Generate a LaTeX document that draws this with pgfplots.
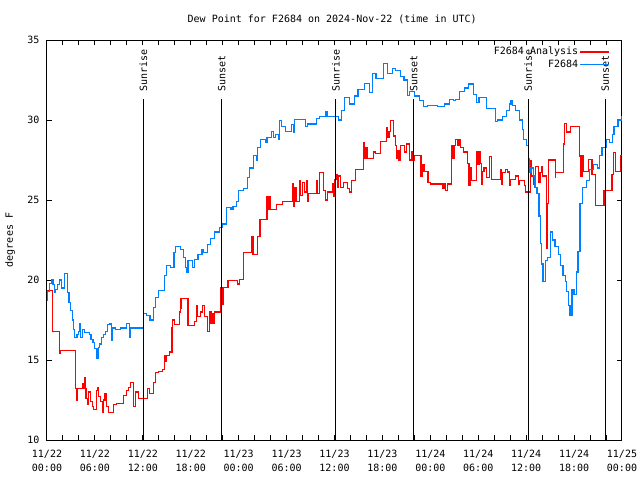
\documentclass[border=0pt]{standalone}
\usepackage{fontspec}
\setmainfont{DejaVu Sans Mono}
\usepackage{pgfplots}
\usepackage{pgfplotstable}
\pgfplotsset{compat=1.18}
\definecolor{anared}{HTML}{FF0000}
\definecolor{obsblue}{HTML}{0080FF}

% hours since 11/22 00:00 UTC, dew point in F
\pgfplotstableread{
h v
0 19.35
0.67 16.8
1.59 15.4
1.67 15.6
3.55 13.2
3.72 12.5
3.8 13.2
4.52 13.5
4.68 13.9
4.77 13.2
4.89 12.6
5.06 12.2
5.18 13.0
5.48 12.4
5.69 12.1
5.85 11.9
6.15 13.1
6.35 13.3
6.48 12.7
6.65 12.4
6.9 11.7
7.07 12.5
7.27 12.9
7.48 12.1
7.73 11.7
8.28 12.2
8.7 12.3
9.62 12.8
9.91 13.1
10.2 13.3
10.49 13.6
10.79 12.1
11.04 13.0
11.46 12.6
12.63 13.2
12.84 12.9
13.38 13.6
13.63 14.2
13.97 14.3
14.46 14.4
14.68 15.3
14.8 14.9
15.01 15.3
15.34 15.5
15.64 17.0
15.76 17.5
15.93 17.2
16.56 18.0
16.68 18.85
16.77 18.2
16.89 18.85
17.65 17.15
18.48 17.4
18.69 18.4
18.85 17.7
19.19 18.0
19.49 18.4
19.74 17.7
20.11 16.8
20.36 18.0
20.53 17.3
20.7 17.9
20.86 17.3
20.99 18.0
21.7 19.5
21.83 18.5
22.04 19.55
22.67 19.97
23.83 19.75
24.12 20.05
24.59 21.74
25.59 22.7
25.8 21.6
26.34 22.7
26.68 23.8
27.55 25.2
27.72 24.4
27.89 25.2
28.01 24.4
28.69 24.7
29.52 24.9
30.78 26.0
30.9 24.6
31.02 25.8
31.19 24.9
31.61 26.2
31.78 25.3
31.95 26.1
32.28 25.5
32.45 26.2
32.61 24.9
32.78 25.4
33.7 26.2
33.87 25.4
34.12 26.7
34.66 25.6
34.87 25.0
35.17 25.5
35.71 26.0
35.88 25.2
36.04 26.3
36.21 26.6
36.38 25.8
36.54 26.5
36.71 25.8
37.17 26.1
37.59 25.7
37.88 25.5
38.13 26.2
38.63 26.9
39.64 28.6
39.76 27.6
39.89 28.3
40.06 27.6
40.89 28.0
41.14 27.9
41.73 28.65
42.48 29.5
42.65 28.9
42.82 29.3
43.03 29.95
43.36 29.0
43.65 28.4
43.78 27.6
43.95 28.1
44.07 27.5
44.28 28.4
44.78 28.0
45.03 28.5
45.41 27.5
45.62 28.0
45.79 27.5
45.95 27.8
46.83 26.5
47.0 27.2
47.2 26.8
47.71 26.1
48.04 26.0
49.5 25.7
49.71 26.0
49.92 25.6
50.13 26.0
50.68 28.4
50.84 27.6
50.96 28.4
51.18 28.8
51.38 28.4
51.59 28.8
51.81 28.3
52.14 28.0
52.64 27.3
52.85 25.9
52.98 27.0
53.15 26.2
53.81 28.0
53.98 27.2
54.15 28.0
54.31 27.3
54.44 26.0
54.56 26.8
54.73 27.0
55.02 26.4
55.36 27.7
55.65 26.3
56.74 26.9
56.9 26.0
57.07 26.7
57.45 26.9
57.66 26.75
57.87 25.9
58.08 26.3
58.62 26.5
59.04 26.0
59.21 26.2
59.75 25.9
59.96 25.5
60.59 27.45
60.71 26.5
60.88 26.0
61.21 27.1
61.5 26.1
61.72 26.7
61.88 27.1
62.05 26.5
62.55 22.0
62.63 24.8
62.76 27.5
63.64 26.4
63.72 26.7
64.64 28.5
64.81 29.8
65.06 29.25
65.6 29.6
66.65 27.75
66.86 26.5
66.98 27.8
67.15 26.8
67.82 27.55
68.24 26.6
68.7 24.65
69.74 25.6
70.75 26.6
70.92 27.95
71.17 26.8
71.84 27.8
72 27.8
}\analysis

\pgfplotstableread{
h v
0 18.7
0.1 19.3
0.35 19.8
0.58 20.0
0.75 19.7
0.92 19.2
1.05 19.4
1.3 19.7
1.6 20.0
1.85 19.5
2.2 20.4
2.55 19.2
2.75 18.6
2.95 18.1
3.15 17.5
3.3 16.9
3.45 16.4
3.75 16.6
3.95 16.8
4.05 17.3
4.2 16.4
4.4 16.9
4.7 16.7
5.35 16.6
5.5 16.3
5.75 16.1
5.95 15.7
6.25 15.1
6.45 15.8
6.6 16.0
6.85 16.4
7.1 16.6
7.35 16.8
7.6 17.2
7.9 17.3
8.1 16.2
8.25 17.0
8.6 16.9
9.2 17.0
9.95 17.3
10.35 16.4
10.5 17.0
12.12 17.9
12.5 17.8
12.9 17.5
13.35 18.3
13.6 18.9
14.0 19.35
14.7 20.3
14.95 20.9
15.45 20.8
15.9 21.7
16.05 22.1
16.7 21.9
17.1 21.4
17.3 20.8
17.5 20.5
17.65 21.2
18.2 20.8
18.45 21.3
18.9 21.6
19.4 21.9
19.6 21.7
20.1 22.2
20.5 22.6
20.95 23.0
21.6 23.3
21.95 23.5
22.5 24.55
23.05 24.4
23.3 24.6
23.75 24.9
24.0 25.6
24.65 25.7
25.1 26.4
25.35 27.0
25.9 27.8
26.2 27.5
26.4 28.3
26.7 28.8
27.4 28.6
27.55 28.9
28.15 29.3
28.35 28.9
28.6 29.1
29.0 28.8
29.1 29.95
29.4 29.6
29.9 29.3
30.6 29.7
30.9 29.2
31.0 30.05
32.4 29.6
32.6 29.75
33.7 30.1
34.15 30.2
34.85 30.55
35.05 30.2
36.5 30.0
36.85 30.6
37.25 31.4
37.9 31.0
38.55 31.5
38.95 31.9
39.75 32.3
40.4 31.7
40.8 32.9
41.2 32.6
42.1 33.55
42.6 32.9
43.25 33.2
43.6 33.1
44.3 32.7
44.7 32.5
45.15 31.55
45.35 31.8
46.0 31.5
46.6 31.2
47.1 30.85
47.6 30.9
48.9 30.85
49.8 31.0
50.4 31.3
50.9 31.2
51.2 31.3
51.7 31.8
52.3 32.0
52.8 32.25
53.4 31.6
53.8 31.1
54.1 31.4
55.0 30.7
56.2 29.9
56.45 30.0
57.0 30.2
57.5 30.6
57.9 31.0
58.1 31.2
58.3 30.9
58.7 30.6
59.2 30.0
59.5 29.4
59.7 28.8
60.0 28.4
60.3 27.6
60.45 26.7
60.6 27.0
60.9 26.5
61.1 25.8
61.35 25.4
61.6 24.0
61.75 22.3
61.9 21.0
62.1 19.9
62.4 21.2
62.7 21.4
63.0 23.0
63.3 22.5
63.6 22.1
64.0 21.6
64.3 20.9
64.6 20.3
64.9 19.9
65.1 19.3
65.35 18.4
65.5 17.8
65.75 19.4
66.0 19.1
66.3 20.5
66.5 21.8
66.75 24.8
67.1 25.8
67.6 26.2
67.95 26.9
68.4 27.2
68.9 27.0
69.2 27.8
69.5 28.3
70.0 28.8
70.4 28.6
70.8 29.1
71.0 29.6
71.5 30.0
71.9 30.2
72 30.2
}\observed

\begin{document}
\fontsize{7.5pt}{10.5pt}\selectfont
\begin{tikzpicture}[font=\fontsize{7.5pt}{10.5pt}\selectfont]
\begin{axis}[
    scale only axis,
    width=431.25pt,
    height=300pt,
    xmin=0, xmax=72,
    ymin=10, ymax=35,
    xtick={0,6,...,72},
    minor xtick={2,4,...,70},
    xticklabels={{11/22\\00:00},{11/22\\06:00},{11/22\\12:00},{11/22\\18:00},
                 {11/23\\00:00},{11/23\\06:00},{11/23\\12:00},{11/23\\18:00},
                 {11/24\\00:00},{11/24\\06:00},{11/24\\12:00},{11/24\\18:00},
                 {11/25\\00:00}},
    xticklabel style={align=center, yshift=-4.5pt},
    yticklabel style={xshift=-3pt},
    ytick={10,15,...,35},
    tick align=inside,
    major tick length=3.75pt,
    minor tick length=3.75pt,
    tick style={black, line width=0.75pt},
    axis line style={line width=0.75pt},
    /pgf/number format/assume math mode=true,
    title={Dew Point for F2684 on 2024-Nov-22 (time in UTC)},
    title style={at={(axis description cs:0.496,1.0325)}, anchor=center},
    ylabel={degrees F},
    ylabel style={at={(axis description cs:-0.0643,0.5)}, anchor=center},
    legend style={at={(axis description cs:1,1)}, anchor=north east,
        xshift=-9pt, yshift=-4pt, draw=none, fill=none, inner sep=0pt,
        row sep=0pt, nodes={inner sep=1pt, text height=6pt, text depth=1.5pt}},
    legend cell align=right,
    legend plot pos=right,
    legend image code/.code={\draw[#1] (0pt,0pt) -- (21.75pt,0pt);},
]
\addplot[anared, line width=0.9pt, const plot] table[x=h, y=v] {\analysis};
\addlegendentry{F2684 Analysis}
\addplot[obsblue, line width=0.9pt, const plot] table[x=h, y=v] {\observed};
\addlegendentry{F2684}

% sunrise / sunset markers
\addplot[black, line width=0.75pt, forget plot] coordinates {(12.08,10) (12.08,31.31)};
\addplot[black, line width=0.75pt, forget plot] coordinates {(21.87,10) (21.87,31.31)};
\addplot[black, line width=0.75pt, forget plot] coordinates {(36.17,10) (36.17,31.31)};
\addplot[black, line width=0.75pt, forget plot] coordinates {(45.91,10) (45.91,31.31)};
\addplot[black, line width=0.75pt, forget plot] coordinates {(60.25,10) (60.25,31.31)};
\addplot[black, line width=0.75pt, forget plot] coordinates {(69.91,10) (69.91,31.31)};
\node[rotate=90, anchor=west, inner sep=0pt] at (axis cs:12.08,31.75) {Sunrise};
\node[rotate=90, anchor=west, inner sep=0pt] at (axis cs:21.87,31.75) {Sunset};
\node[rotate=90, anchor=west, inner sep=0pt] at (axis cs:36.17,31.75) {Sunrise};
\node[rotate=90, anchor=west, inner sep=0pt] at (axis cs:45.91,31.75) {Sunset};
\node[rotate=90, anchor=west, inner sep=0pt] at (axis cs:60.25,31.75) {Sunrise};
\node[rotate=90, anchor=west, inner sep=0pt] at (axis cs:69.91,31.75) {Sunset};
\end{axis}
\pgfresetboundingbox
\path[use as bounding box] (-35.25pt,-30pt) rectangle (444.75pt,330pt);
\end{tikzpicture}
\end{document}
